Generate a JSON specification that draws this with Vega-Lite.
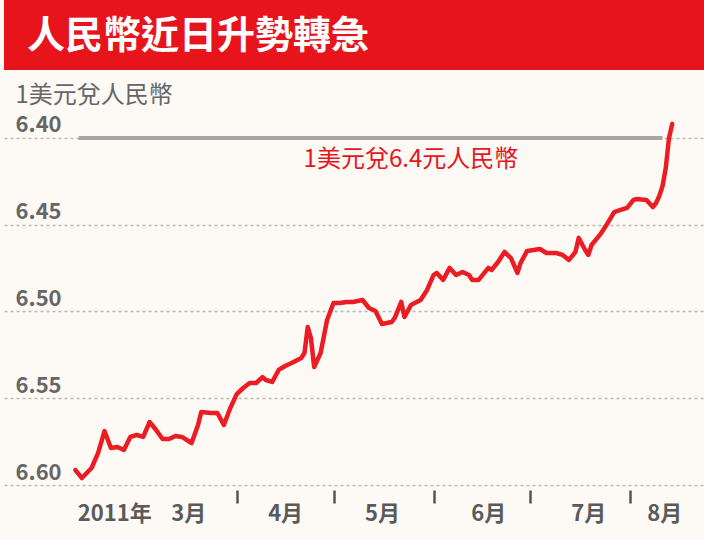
{
  "$schema": "https://vega.github.io/schema/vega-lite/v6.json",
  "background": "#fdfaf5",
  "padding": {"left": 4, "top": 0, "right": 0, "bottom": 18},
  "spacing": 10,
  "config": {"view": {"stroke": null}, "font": "Noto Sans CJK TC"},
  "vconcat": [
    {
      "width": 700,
      "height": 70,
      "view": {"fill": "#e8141c", "stroke": null},
      "data": {"values": [{"headline": "人民幣近日升勢轉急"}]},
      "mark": {"type": "text", "align": "left", "baseline": "middle", "dx": -327, "dy": 2, "fontSize": 38, "fontWeight": "bold", "color": "#ffffff", "font": "Noto Sans CJK TC"},
      "encoding": {"text": {"field": "headline"}}
    },
    {
      "width": 700,
      "height": 405,
      "layer": [
        {
          "data": {"values": [{"start": "2011-02-11", "end": "2011-08-11", "rate": 6.4}]},
          "mark": {"type": "rule", "color": "#a6a6a6", "strokeWidth": 4},
          "encoding": {
            "x": {
              "field": "start",
              "type": "temporal",
              "scale": {
                "type": "utc",
                "domain": [
                  {"year": 2011, "month": 1, "date": 18, "hours": 20, "minutes": 24, "utc": true},
                  {"year": 2011, "month": 8, "date": 23, "hours": 20, "minutes": 24, "utc": true}
                ]
              },
              "axis": {
                "orient": "bottom",
                "values": [
                  {"year": 2011, "month": 2, "date": 22, "utc": true},
                  {"year": 2011, "month": 3, "date": 17, "utc": true},
                  {"year": 2011, "month": 4, "date": 16, "utc": true},
                  {"year": 2011, "month": 5, "date": 16, "utc": true},
                  {"year": 2011, "month": 6, "date": 18, "utc": true},
                  {"year": 2011, "month": 7, "date": 19, "utc": true},
                  {"year": 2011, "month": 8, "date": 11, "hours": 12, "utc": true}
                ],
                "labelExpr": "utcmonth(datum.value) == 1 ? '2011年' : (utcmonth(datum.value) + 1) + '月'",
                "ticks": false,
                "tickSize": 0,
                "domain": false,
                "grid": false,
                "labelPadding": 18,
                "labelBaseline": "top",
                "labelFontSize": 22,
                "labelFont": "Noto Sans CJK TC",
                "labelFontWeight": "bold",
                "labelColor": "#5a5a5a",
                "labelOverlap": false,
                "labelFlush": false,
                "title": null
              }
            },
            "x2": {"field": "end"},
            "y": {"field": "rate", "type": "quantitative"}
          }
        },
        {
          "data": {
            "values": [
              {"date": "2011-02-10", "rate": 6.5914},
              {"date": "2011-02-12", "rate": 6.5960},
              {"date": "2011-02-15", "rate": 6.5902},
              {"date": "2011-02-17", "rate": 6.5816},
              {"date": "2011-02-19", "rate": 6.5689},
              {"date": "2011-02-21", "rate": 6.5787},
              {"date": "2011-02-23", "rate": 6.5781},
              {"date": "2011-02-25", "rate": 6.5798},
              {"date": "2011-02-27", "rate": 6.5723},
              {"date": "2011-03-01", "rate": 6.5712},
              {"date": "2011-03-03", "rate": 6.5723},
              {"date": "2011-03-05", "rate": 6.5637},
              {"date": "2011-03-07", "rate": 6.5683},
              {"date": "2011-03-09", "rate": 6.5735},
              {"date": "2011-03-11", "rate": 6.5735},
              {"date": "2011-03-13", "rate": 6.5718},
              {"date": "2011-03-15", "rate": 6.5723},
              {"date": "2011-03-18", "rate": 6.5758},
              {"date": "2011-03-20", "rate": 6.5654},
              {"date": "2011-03-21", "rate": 6.5579},
              {"date": "2011-03-24", "rate": 6.5585},
              {"date": "2011-03-26", "rate": 6.5585},
              {"date": "2011-03-28", "rate": 6.5654},
              {"date": "2011-03-30", "rate": 6.5556},
              {"date": "2011-04-01", "rate": 6.5476},
              {"date": "2011-04-03", "rate": 6.5441},
              {"date": "2011-04-05", "rate": 6.5412},
              {"date": "2011-04-07", "rate": 6.5412},
              {"date": "2011-04-09", "rate": 6.5378},
              {"date": "2011-04-10", "rate": 6.5395},
              {"date": "2011-04-12", "rate": 6.5406},
              {"date": "2011-04-14", "rate": 6.5337},
              {"date": "2011-04-16", "rate": 6.5314},
              {"date": "2011-04-18", "rate": 6.5297},
              {"date": "2011-04-21", "rate": 6.5268},
              {"date": "2011-04-22", "rate": 6.5239},
              {"date": "2011-04-23", "rate": 6.5089},
              {"date": "2011-04-24", "rate": 6.5153},
              {"date": "2011-04-25", "rate": 6.5320},
              {"date": "2011-04-27", "rate": 6.5239},
              {"date": "2011-04-29", "rate": 6.5049},
              {"date": "2011-05-01", "rate": 6.4951},
              {"date": "2011-05-03", "rate": 6.4951},
              {"date": "2011-05-05", "rate": 6.4945},
              {"date": "2011-05-07", "rate": 6.4945},
              {"date": "2011-05-10", "rate": 6.4934},
              {"date": "2011-05-12", "rate": 6.4980},
              {"date": "2011-05-14", "rate": 6.4997},
              {"date": "2011-05-16", "rate": 6.5072},
              {"date": "2011-05-19", "rate": 6.5061},
              {"date": "2011-05-20", "rate": 6.5037},
              {"date": "2011-05-22", "rate": 6.4945},
              {"date": "2011-05-23", "rate": 6.5032},
              {"date": "2011-05-25", "rate": 6.4963},
              {"date": "2011-05-28", "rate": 6.4934},
              {"date": "2011-05-30", "rate": 6.4876},
              {"date": "2011-06-01", "rate": 6.4790},
              {"date": "2011-06-02", "rate": 6.4778},
              {"date": "2011-06-04", "rate": 6.4818},
              {"date": "2011-06-06", "rate": 6.4749},
              {"date": "2011-06-08", "rate": 6.4790},
              {"date": "2011-06-10", "rate": 6.4772},
              {"date": "2011-06-12", "rate": 6.4790},
              {"date": "2011-06-13", "rate": 6.4818},
              {"date": "2011-06-15", "rate": 6.4818},
              {"date": "2011-06-18", "rate": 6.4749},
              {"date": "2011-06-19", "rate": 6.4761},
              {"date": "2011-06-21", "rate": 6.4715},
              {"date": "2011-06-23", "rate": 6.4657},
              {"date": "2011-06-25", "rate": 6.4692},
              {"date": "2011-06-27", "rate": 6.4778},
              {"date": "2011-06-28", "rate": 6.4720},
              {"date": "2011-06-30", "rate": 6.4651},
              {"date": "2011-07-02", "rate": 6.4646},
              {"date": "2011-07-04", "rate": 6.4640},
              {"date": "2011-07-06", "rate": 6.4663},
              {"date": "2011-07-09", "rate": 6.4663},
              {"date": "2011-07-11", "rate": 6.4674},
              {"date": "2011-07-13", "rate": 6.4703},
              {"date": "2011-07-15", "rate": 6.4657},
              {"date": "2011-07-16", "rate": 6.4576},
              {"date": "2011-07-18", "rate": 6.4646},
              {"date": "2011-07-19", "rate": 6.4674},
              {"date": "2011-07-20", "rate": 6.4617},
              {"date": "2011-07-23", "rate": 6.4548},
              {"date": "2011-07-25", "rate": 6.4490},
              {"date": "2011-07-27", "rate": 6.4427},
              {"date": "2011-07-29", "rate": 6.4415},
              {"date": "2011-07-31", "rate": 6.4403},
              {"date": "2011-08-02", "rate": 6.4357},
              {"date": "2011-08-03", "rate": 6.4352},
              {"date": "2011-08-06", "rate": 6.4357},
              {"date": "2011-08-08", "rate": 6.4398},
              {"date": "2011-08-09", "rate": 6.4375},
              {"date": "2011-08-10", "rate": 6.4334},
              {"date": "2011-08-11", "rate": 6.4277},
              {"date": "2011-08-12", "rate": 6.4173},
              {"date": "2011-08-13", "rate": 6.4000},
              {"date": "2011-08-14", "rate": 6.3919}
            ]
          },
          "mark": {"type": "line", "color": "#ec1c24", "strokeWidth": 4.5, "strokeJoin": "round", "strokeCap": "round"},
          "encoding": {
            "x": {
              "field": "date",
              "type": "temporal",
              "axis": {
                "orient": "bottom",
                "values": [
                  {"year": 2011, "month": 4, "date": 1, "utc": true},
                  {"year": 2011, "month": 5, "date": 1, "utc": true},
                  {"year": 2011, "month": 6, "date": 1, "utc": true},
                  {"year": 2011, "month": 7, "date": 1, "utc": true},
                  {"year": 2011, "month": 8, "date": 1, "utc": true}
                ],
                "labels": false,
                "domain": false,
                "grid": false,
                "ticks": true,
                "tickSize": 13,
                "tickWidth": 2.5,
                "tickColor": "#555555",
                "offset": 5,
                "title": null
              }
            },
            "y": {
              "field": "rate",
              "type": "quantitative",
              "scale": {"domain": [6.3666, 6.6], "reverse": true, "zero": false, "nice": false},
              "axis": {
                "orient": "left",
                "values": [6.4, 6.45, 6.5, 6.55, 6.6],
                "format": ".2f",
                "domain": false,
                "ticks": false,
                "tickSize": 0,
                "labelAlign": "left",
                "labelBaseline": "alphabetic",
                "labelPadding": -11,
                "labelOffset": -6,
                "labelFontSize": 22,
                "labelFont": "Noto Sans CJK TC",
                "labelFontWeight": "bold",
                "labelColor": "#666666",
                "labelFlush": false,
                "labelOverlap": false,
                "grid": true,
                "gridColor": "#b8b8b8",
                "gridDash": [3, 3],
                "gridWidth": 1.5,
                "title": "1美元兌人民幣",
                "titleAngle": 0,
                "titleAlign": "left",
                "titleBaseline": "top",
                "titleX": 11,
                "titleY": 3,
                "titleFontSize": 24,
                "titleFont": "Noto Sans CJK TC",
                "titleFontWeight": "normal",
                "titleColor": "#666666"
              }
            }
          }
        },
        {
          "data": {"values": [{"date": "2011-05-25", "rate": 6.4, "note": "1美元兌6.4元人民幣"}]},
          "mark": {"type": "text", "color": "#e8141c", "fontSize": 24, "font": "Noto Sans CJK TC", "baseline": "middle", "align": "center", "dy": 22},
          "encoding": {
            "x": {"field": "date", "type": "temporal", "axis": null},
            "y": {"field": "rate", "type": "quantitative"},
            "text": {"field": "note"}
          }
        }
      ],
      "resolve": {"axis": {"x": "independent"}}
    }
  ]
}
